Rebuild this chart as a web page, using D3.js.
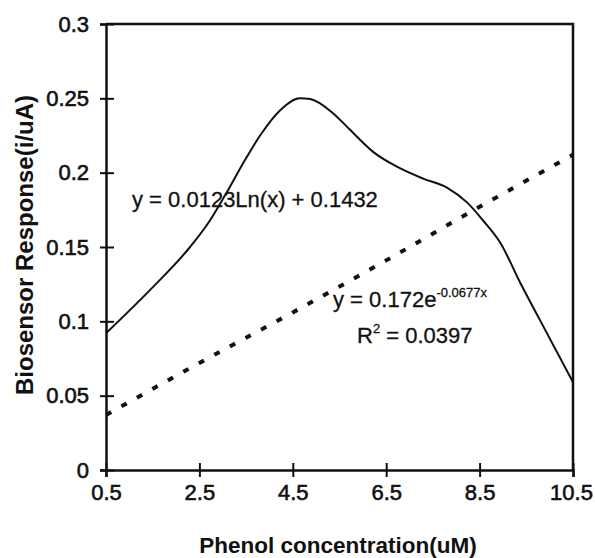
<!DOCTYPE html>
<html>
<head>
<meta charset="utf-8">
<script src="https://cdn.jsdelivr.net/npm/d3@7"></script>
<style>
  body { margin: 0; background: #fff; }
  svg text { fill: #111; }
  .tick text { font-family: "Liberation Sans", Arial, sans-serif; font-size: 22px; stroke: #111; stroke-width: 0.6px; }
  .title { font-family: "Liberation Sans", Arial, sans-serif; font-weight: bold; }
  .eq { font-family: "Liberation Sans", Arial, sans-serif; font-size: 22px; stroke: #111; stroke-width: 0.3px; }
</style>
</head>
<body>
<script>
// measured response (solid curve)
const respX = [0.5, 1.44, 2.3, 2.73, 3.09, 3.43, 3.8, 4.23, 4.65, 4.87, 5.36, 5.72, 6.22, 6.73, 7.29, 7.8, 8.23, 8.57, 8.94, 9.37, 9.79, 10.5];
const respY = [0.092, 0.121, 0.150, 0.168, 0.187, 0.206, 0.225, 0.242, 0.250, 0.2495, 0.240, 0.229, 0.214, 0.204, 0.196, 0.190, 0.180, 0.168, 0.153, 0.126, 0.101, 0.059];
// trendline (dotted)
const trendX = [0.5, 2.5, 4.5, 6.5, 8.5, 10.5];
const trendY = [0.037, 0.072, 0.106, 0.141, 0.177, 0.212];
// axis ticks
const xTicks = [0.5, 2.5, 4.5, 6.5, 8.5, 10.5];
const yTicks = [0, 0.05, 0.1, 0.15, 0.2, 0.25, 0.3];

const width = 595;
const height = 558;
const svg = d3.select("body").append("svg").attr("width", width).attr("height", height);

const xScale = d3.scaleLinear().domain([0.5, 10.5]).range([106, 573]);
const yScale = d3.scaleLinear().domain([0, 0.3]).range([470, 24]);

// frame top / right
svg.append("path")
  .attr("d", `M${xScale(0.5)},${yScale(0.3)}H${xScale(10.5)}V${yScale(0)}`)
  .attr("fill", "none").attr("stroke", "#111").attr("stroke-width", 2.5);

const axisx = d3.axisBottom(xScale).tickValues(xTicks).tickFormat(d3.format("")).tickSize(7).tickPadding(7);
const axisy = d3.axisLeft(yScale).tickValues(yTicks).tickFormat(d => d === 0 ? "0" : d3.format("")(+d.toFixed(2))).tickSize(6).tickPadding(11);

svg.append("g")
  .attr("transform", "translate(0," + yScale(0) + ")")
  .call(axisx)
  .call(g => g.select(".domain").attr("stroke", "#111").attr("stroke-width", 2.5))
  .call(g => g.selectAll(".tick line").attr("y1", -7).attr("stroke", "#111").attr("stroke-width", 2))
  .call(g => g.selectAll(".tick text").filter(d => d === 10.5).attr("dx", -2));

svg.append("g")
  .attr("transform", "translate(" + xScale(0.5) + ",0)")
  .call(axisy)
  .call(g => g.select(".domain").attr("stroke", "#111").attr("stroke-width", 2.5))
  .call(g => g.selectAll(".tick line").attr("x1", 8).attr("stroke", "#111").attr("stroke-width", 2));

svg.selectAll(".tick text").attr("font-family", null).attr("font-size", null);

const resp = respX.map((x, i) => ({ x, y: respY[i] }));
const trend = trendX.map((x, i) => ({ x, y: trendY[i] }));

const line = d3.line()
  .x(d => xScale(d.x))
  .y(d => yScale(d.y))
  .curve(d3.curveMonotoneX);

svg.append("path")
  .datum(resp)
  .attr("fill", "none").attr("stroke", "#111").attr("stroke-width", 2)
  .attr("d", line);

svg.append("path")
  .datum(trend)
  .attr("fill", "none").attr("stroke", "#111").attr("stroke-width", 4)
  .attr("stroke-dasharray", "6,11.7")
  .attr("d", line);

// equations
svg.append("text").attr("class", "eq").attr("x", 132).attr("y", 207)
  .text("y = 0.0123Ln(x) + 0.1432");

const eq2 = svg.append("text").attr("class", "eq").attr("x", 333).attr("y", 307);
eq2.append("tspan").text("y = 0.172e");
eq2.append("tspan").attr("dy", -10).attr("font-size", 13).text("-0.0677x");

const eq3 = svg.append("text").attr("class", "eq").attr("x", 357).attr("y", 343);
eq3.append("tspan").text("R");
eq3.append("tspan").attr("dy", -10).attr("font-size", 13).text("2");
eq3.append("tspan").attr("dy", 10).text(" = 0.0397");

// axis titles
svg.append("text").attr("class", "title")
  .attr("x", 338).attr("y", 553)
  .attr("text-anchor", "middle").attr("font-size", 22.5)
  .text("Phenol concentration(uM)");

svg.append("text").attr("class", "title")
  .attr("transform", "translate(33,245) rotate(-90)")
  .attr("text-anchor", "middle").attr("font-size", 24)
  .text("Biosensor Response(i/uA)");
</script>
</body>
</html>
